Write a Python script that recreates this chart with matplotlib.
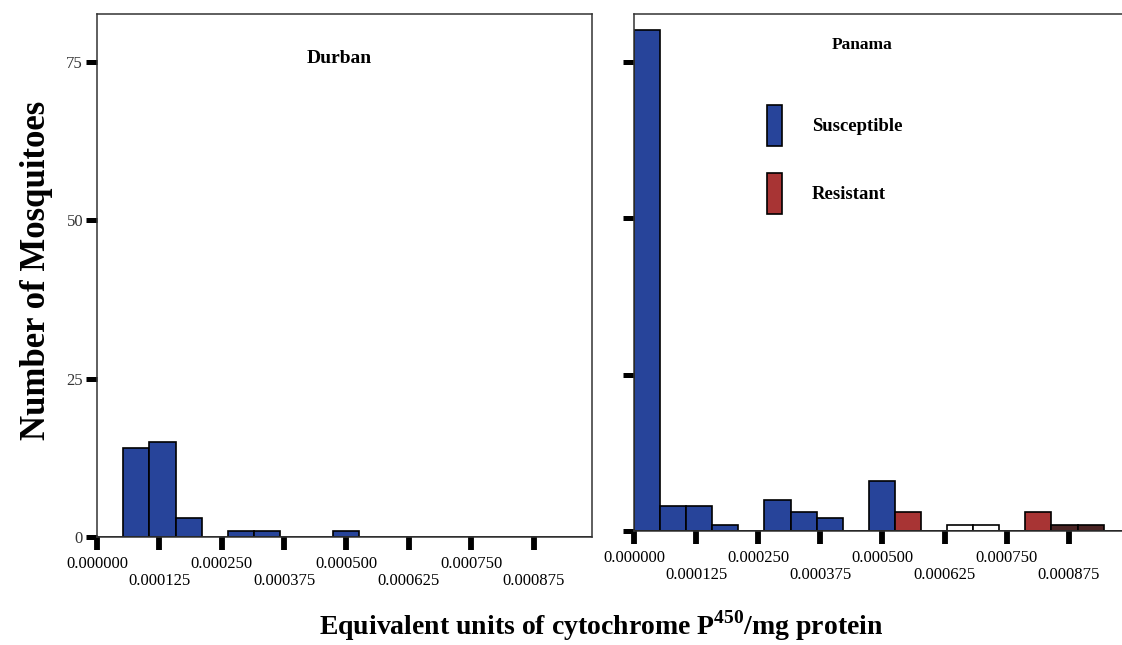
import numpy as np
import matplotlib
matplotlib.use("Agg")
import matplotlib.pyplot as plt
from matplotlib.ticker import FixedLocator, FixedFormatter

plt.rcParams['font.family'] = ['Liberation Serif', 'DejaVu Serif']
plt.rcParams['mathtext.fontset'] = 'custom'
plt.rcParams['mathtext.bf'] = 'Liberation Serif:bold'
plt.rcParams['mathtext.rm'] = 'Liberation Serif'

# histogram bins (equivalent units / mg protein)
bin_width = 0.0000525
n_bins = 19

# counts per bin
durban_susceptible = [0, 14, 15, 3, 0, 1, 1, 0, 0, 1, 0, 0, 0, 0, 0, 0, 0, 0, 0]
panama_susceptible = [80, 4, 4, 1, 0, 5, 3, 2, 0, 8, 0, 0, 0, 0, 0, 0, 0, 0, 0]
panama_resistant = [0, 0, 0, 0, 0, 0, 0, 0, 0, 0, 3, 0, 0, 0, 0, 3, 0, 0, 0]
panama_unfilled = [0, 0, 0, 0, 0, 0, 0, 0, 0, 0, 0, 0, 1, 1, 0, 0, 0, 0, 0]
panama_dark = [0, 0, 0, 0, 0, 0, 0, 0, 0, 0, 0, 0, 0, 0, 0, 0, 1, 1, 0]

major_ticks = [0.0, 0.00025, 0.0005, 0.00075]
minor_ticks = [0.000125, 0.000375, 0.000625, 0.000875]
y_ticks = [0, 25, 50, 75]

blue = '#27449a'
red = '#a83434'
dark = '#4a2424'

edges = np.arange(n_bins) * bin_width

fig = plt.figure(figsize=(11.22, 6.45), dpi=100)
ax1 = fig.add_axes([97 / 1122, 1 - 537 / 645, 495 / 1122, 523 / 645])
ax2 = fig.add_axes([634 / 1122, 1 - 531 / 645, 488 / 1122, 517 / 645])


def style_axis(ax, xmax, show_ylabels):
    ax.set_xlim(0, xmax)
    ax.set_ylim(0, 82.6)
    ax.xaxis.set_major_locator(FixedLocator(major_ticks))
    ax.xaxis.set_major_formatter(FixedFormatter([f'{t:.6f}' for t in major_ticks]))
    ax.xaxis.set_minor_locator(FixedLocator(minor_ticks))
    ax.xaxis.set_minor_formatter(FixedFormatter([f'{t:.6f}' for t in minor_ticks]))
    ax.tick_params(axis='x', which='major', length=9, width=4.2, pad=5, labelsize=12)
    ax.tick_params(axis='x', which='minor', length=9, width=4.2, pad=17, labelsize=12)
    ax.set_yticks(y_ticks)
    ax.tick_params(axis='y', length=8, width=3.6, pad=2, labelsize=12,
                   labelleft=show_ylabels)
    for lbl in ax.get_yticklabels():
        lbl.set_color('#333333')
    for s in ax.spines.values():
        s.set_linewidth(1.1)
        s.set_color('#333333')


# Durban
ax1.bar(edges, durban_susceptible, width=bin_width, align='edge',
        color=blue, edgecolor='black', linewidth=1.2)
style_axis(ax1, 0.000992, True)
ax1.text(0.49, 0.915, 'Durban', transform=ax1.transAxes, ha='center',
         va='center', fontsize=14, fontweight='bold')

# Panama
ax2.bar(edges, panama_susceptible, width=bin_width, align='edge',
        color=blue, edgecolor='black', linewidth=1.2, label='Susceptible')
ax2.bar(edges, panama_resistant, width=bin_width, align='edge',
        color=red, edgecolor='black', linewidth=1.2, label='Resistant')
ax2.bar(edges, panama_unfilled, width=bin_width, align='edge',
        color='white', edgecolor='black', linewidth=1.2)
ax2.bar(edges, panama_dark, width=bin_width, align='edge',
        color=dark, edgecolor='black', linewidth=1.2)
style_axis(ax2, 0.000982, False)
ax2.spines['right'].set_visible(False)
ax2.text(0.468, 0.94, 'Panama', transform=ax2.transAxes, ha='center',
         va='center', fontsize=12.5, fontweight='bold')

leg = ax2.legend(loc='upper left', bbox_to_anchor=(0.272, 0.824), frameon=False,
                 fontsize=13.5, handlelength=0.8, handleheight=3.0,
                 handletextpad=1.6, labelspacing=1.45, borderpad=0,
                 borderaxespad=0)
for t in leg.get_texts():
    t.set_fontweight('bold')

fig.text(37 / 1122, 1 - 270 / 645, 'Number of Mosquitoes', rotation=90,
         ha='center', va='center', fontsize=25, fontweight='bold')
fig.text(601 / 1122, 1 - 626 / 645,
         r'Equivalent units of cytochrome P$^{\mathbf{450}}$/mg protein',
         ha='center', va='center', fontsize=20, fontweight='bold')

fig.savefig('out.png', dpi=100)
